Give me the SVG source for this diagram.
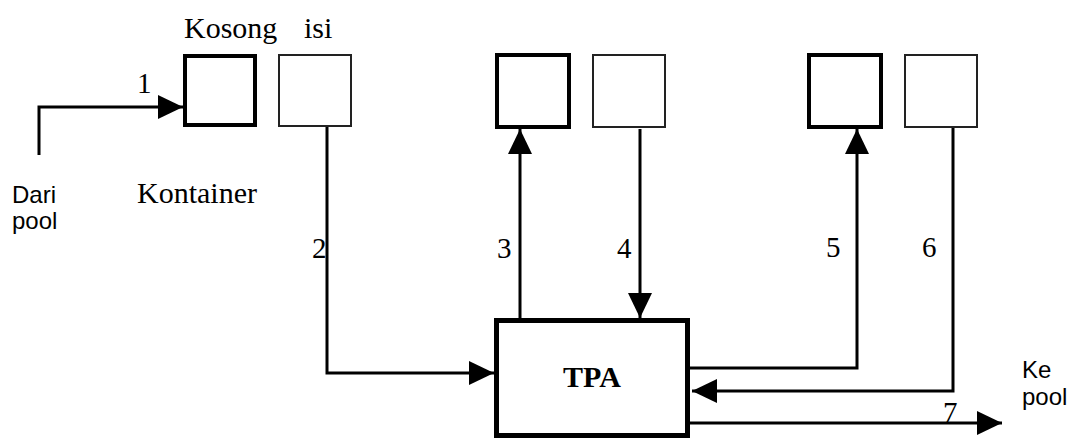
<svg xmlns="http://www.w3.org/2000/svg" width="1070" height="441" viewBox="0 0 1070 441">
<style>
.empty{fill:#fff;stroke:#000;stroke-width:4}
.full{fill:#fff;stroke:#222;stroke-width:2}
.tpa{fill:#fff;stroke:#000;stroke-width:5}
.conn{fill:none;stroke:#000;stroke-width:3}
.serif{font-family:"Liberation Serif","Times New Roman",serif;font-size:30px;fill:#000}
.sans{font-family:"Liberation Sans",Arial,sans-serif;font-size:24px;fill:#000}
.num{font-family:"Liberation Serif","Times New Roman",serif;font-size:29px;fill:#000}
</style>
<defs>
<marker id="arr" markerUnits="userSpaceOnUse" markerWidth="26" markerHeight="26" refX="25" refY="12" orient="auto">
<path d="M0,0 L25,12 L0,24 z" fill="#000"/>
</marker>
</defs>
<g id="connectors">
<path class="conn" d="M39,155 V107 H183" marker-end="url(#arr)"/>
<path class="conn" d="M327,127 V373 H494" marker-end="url(#arr)"/>
<path class="conn" d="M520,318 V129" marker-end="url(#arr)"/>
<path class="conn" d="M640,129 V318" marker-end="url(#arr)"/>
<path class="conn" d="M690,368 H857 V129" marker-end="url(#arr)"/>
<path class="conn" d="M953,128 V391 H692" marker-end="url(#arr)"/>
<path class="conn" d="M690,423 H1002" marker-end="url(#arr)"/>
</g>
<g id="box1"><rect class="empty" x="185" y="56" width="70" height="69"/></g>
<g id="box2"><rect class="full" x="279" y="55" width="72" height="71"/></g>
<g id="box3"><rect class="empty" x="497" y="55" width="72" height="72"/></g>
<g id="box4"><rect class="full" x="593" y="55" width="72" height="72"/></g>
<g id="box5"><rect class="empty" x="809" y="55" width="72" height="72"/></g>
<g id="box6"><rect class="full" x="905" y="55" width="72" height="72"/></g>
<g id="tpa">
<rect class="tpa" x="496.5" y="320.5" width="191" height="115"/>
<text class="serif" x="592" y="387" text-anchor="middle" font-weight="bold">TPA</text>
</g>
<g id="labels">
<text class="serif" x="184" y="38">Kosong</text>
<text class="serif" x="304" y="38">isi</text>
<text class="serif" x="137" y="203">Kontainer</text>
<text class="sans" x="12" y="203">Dari</text>
<text class="sans" x="12" y="229">pool</text>
<text class="sans" x="1022" y="378">Ke</text>
<text class="sans" x="1022" y="405">pool</text>
<text class="num" x="137" y="93">1</text>
<text class="num" x="312" y="258">2</text>
<text class="num" x="497" y="258">3</text>
<text class="num" x="617" y="258">4</text>
<text class="num" x="826" y="257">5</text>
<text class="num" x="922" y="257">6</text>
<text class="num" x="943" y="422">7</text>
</g>
</svg>
